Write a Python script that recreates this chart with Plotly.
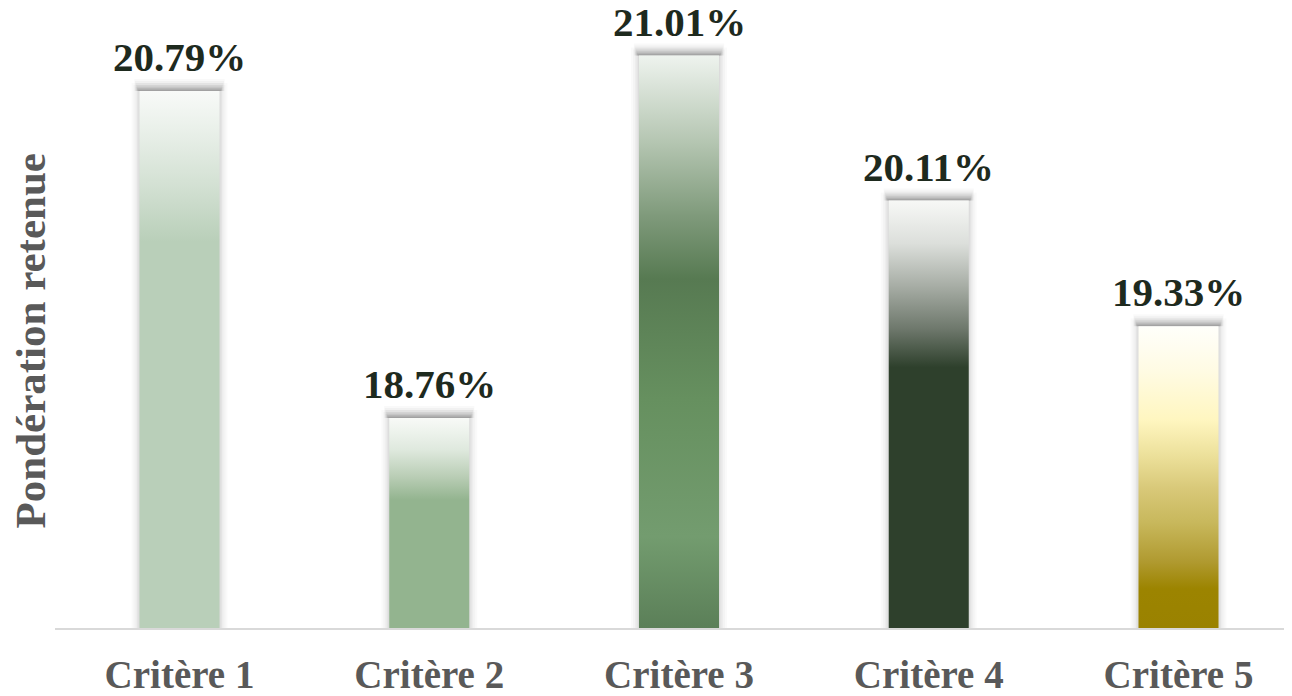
import plotly.graph_objects as go

# ---- data ----
categories = ["Critère 1", "Critère 2", "Critère 3", "Critère 4", "Critère 5"]
values = [20.79, 18.76, 21.01, 20.11, 19.33]
labels = ["20.79%", "18.76%", "21.01%", "20.11%", "19.33%"]
y_title = "Pondération retenue"

# gradient colour stops per bar (0 = bottom, 1 = top)
gradients = [
    [[0, "#b9cfb9"], [0.72, "#b9cfb9"], [0.82, "#d2e0d2"], [0.92, "#e8efe8"], [1, "#f8faf8"]],
    [[0, "#93b48f"], [0.61, "#93b48f"], [0.72, "#b9cdb5"], [0.85, "#dfe9de"], [1, "#f8faf7"]],
    [[0, "#5b7f58"], [0.16, "#739c6f"], [0.4, "#66905f"], [0.61, "#577a52"],
     [0.72, "#7f9a7b"], [0.85, "#b5c6b2"], [1, "#eef3ee"]],
    [[0, "#2e402c"], [0.61, "#2e402c"], [0.7, "#6e786c"], [0.8, "#a7ada5"],
     [0.9, "#dcdfdb"], [1, "#f7f8f6"]],
    [[0, "#9a8200"], [0.13, "#9c8400"], [0.22, "#b09a30"], [0.35, "#c8b85c"],
     [0.46, "#d8c878"], [0.57, "#ece09a"], [0.69, "#fff6c0"], [0.85, "#fffbe3"], [1, "#fffffb"]],
]

# ---- layout geometry (page body has an 8px margin) ----
OFF = 8
W, H = 1292 - OFF, 696 - OFF
M_L, M_R, M_T, M_B = 55 - OFF, 0, 20 - OFF, 68
PX_PER_CAT = 249.75
PX_PER_PCT = 161.1
Y_MIN = 17.457
plot_w = W - M_L - M_R
plot_h = H - M_T - M_B
x_lo = (55 - 179.5) / PX_PER_CAT
x_hi = x_lo + plot_w / PX_PER_CAT
y_hi = Y_MIN + plot_h / PX_PER_PCT
BAR_W = 80 / PX_PER_CAT
dxp = 1 / PX_PER_CAT
dyp = 1 / PX_PER_PCT

fig = go.Figure()

def rect(x0, x1, y0, y1, color):
    fig.add_trace(go.Scatter(
        x=[x0, x1, x1, x0, x0], y=[y0, y0, y1, y1, y0],
        mode="lines", fill="toself", fillcolor=color,
        line=dict(width=0), hoverinfo="skip", showlegend=False))

# soft shadows: faint glow on the sides, stronger blurred band on top
glow_layers = [(8, 0.018), (6, 0.022), (4, 0.028), (2.5, 0.034), (1, 0.04)]
top_layers = [(12, 0.025), (10, 0.03), (8, 0.035), (6, 0.04), (4.5, 0.045), (3, 0.05), (1.5, 0.055)]
for i, v in enumerate(values):
    for e, a in glow_layers:
        rect(i - BAR_W / 2 - e * dxp, i + BAR_W / 2 + e * dxp, Y_MIN, v + e * dyp,
             f"rgba(0,0,0,{a})")
    for e, a in top_layers:
        s = 1 + e * 0.35
        rect(i - BAR_W / 2 - s * dxp, i + BAR_W / 2 + s * dxp, v, v + e * dyp,
             f"rgba(0,0,0,{a})")

# gradient bars
for i, v in enumerate(values):
    x0 = i - BAR_W / 2
    x1 = i + BAR_W / 2
    fig.add_trace(go.Scatter(
        x=[x0, x1, x1, x0, x0], y=[Y_MIN, Y_MIN, v, v, Y_MIN],
        mode="lines", fill="toself",
        fillgradient=dict(type="vertical", colorscale=gradients[i]),
        line=dict(width=0), name=categories[i], showlegend=False,
        hovertemplate=f"{categories[i]}: {labels[i]}<extra></extra>"))

# value labels
for i, v in enumerate(values):
    fig.add_annotation(x=i, y=v, text=labels[i], showarrow=False,
                       xanchor="center", yanchor="bottom", yshift=9,
                       font=dict(family="Liberation Serif", size=41, color="#1e2a1e", weight="bold"))

# y axis title
fig.add_annotation(xref="paper", yref="paper", x=0, xshift=-(55 - 30),
                   y=(628 - 341.5) / plot_h, text=y_title, textangle=-90,
                   showarrow=False, xanchor="center", yanchor="middle",
                   font=dict(family="Liberation Serif", size=43, color="#595959", weight="bold"))

fig.update_layout(
    width=W, height=H,
    margin=dict(l=M_L, r=M_R, t=M_T, b=M_B),
    plot_bgcolor="white", paper_bgcolor="white",
    xaxis=dict(range=[x_lo, x_hi], tickvals=list(range(len(categories))), ticktext=categories,
               showgrid=False, zeroline=False, showline=True, linecolor="#d9d9d9", linewidth=1.5,
               ticks="", ticklabelstandoff=11,
               tickfont=dict(family="Liberation Serif", size=39, color="#595959", weight="bold")),
    yaxis=dict(range=[Y_MIN, y_hi], showgrid=False, zeroline=False, showticklabels=False,
               showline=False, ticks=""),
)

fig.write_html("out.html")
